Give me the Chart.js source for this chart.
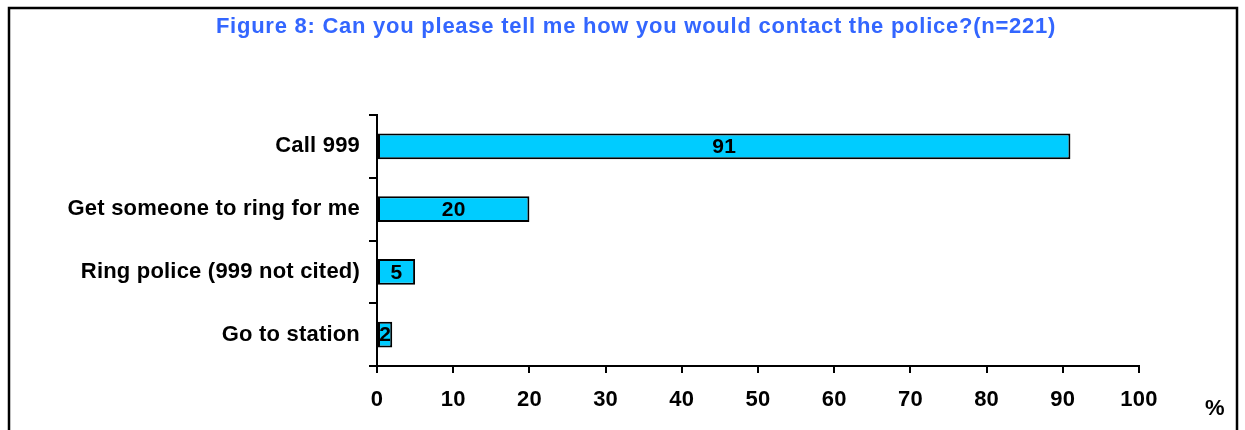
<!DOCTYPE html>
<html>
<head>
<meta charset="utf-8">
<script src="https://cdn.jsdelivr.net/npm/chart.js@4.4.1/dist/chart.umd.min.js"></script>
<style>
  html, body { margin: 0; padding: 0; background: #fff; }
  #wrap { position: relative; width: 1245px; height: 430px; }
</style>
</head>
<body>
<div id="wrap"><canvas id="grafico" width="1245" height="430"></canvas></div>
<script>
const titulo = 'Figure 8: Can you please tell me how you would contact the police?(n=221)';
const categorias = ['Call 999', 'Get someone to ring for me', 'Ring police (999 not cited)', 'Go to station'];
const porcentajes = [91, 20, 5, 2];
const ticksX = [0, 10, 20, 30, 40, 50, 60, 70, 80, 90, 100];

const FUENTE = '"Liberation Sans", Arial, sans-serif';

// marco, titulo, valores sobre las barras y el simbolo %
const extras = {
    id: 'extras',
    beforeDraw(chart) {
        const ctx = chart.ctx;
        ctx.save();
        ctx.fillStyle = '#fff';
        ctx.fillRect(0, 0, chart.width, chart.height);
        ctx.strokeStyle = '#000';
        ctx.lineWidth = 2.5;
        ctx.strokeRect(9, 8, 1228, 460);
        ctx.restore();
        // texto de los ejes apenas espaciado
        ctx.letterSpacing = '0.2px';
    },
    afterDatasetsDraw(chart) {
        const ctx = chart.ctx;
        const area = chart.chartArea;
        ctx.save();
        ctx.font = 'bold 22px ' + FUENTE;
        ctx.letterSpacing = '0.75px';
        ctx.fillStyle = '#3366ff';
        ctx.textAlign = 'center';
        ctx.textBaseline = 'middle';
        ctx.fillText(titulo, 636, 27);

        ctx.letterSpacing = '0.3px';
        ctx.fillStyle = '#000';
        ctx.font = 'bold 21px ' + FUENTE;
        chart.getDatasetMeta(0).data.forEach((bar, i) => {
            const cx = (bar.x + bar.base) / 2;
            ctx.fillText(String(porcentajes[i]), cx, bar.y + 1);
        });

        ctx.font = 'bold 22px ' + FUENTE;
        ctx.fillText('%', area.right + 76, 409);
        ctx.restore();
    }
};

new Chart(document.getElementById('grafico'), {
    type: 'bar',
    data: {
        labels: categorias,
        datasets: [{
            data: porcentajes,
            backgroundColor: '#00ccff',
            borderColor: '#000',
            borderWidth: 2,
            borderSkipped: false,
            barPercentage: 0.41,
            categoryPercentage: 1
        }]
    },
    options: {
        indexAxis: 'y',
        responsive: false,
        animation: false,
        layout: { padding: { left: 0, top: 115, right: 106, bottom: 0 } },
        plugins: {
            legend: { display: false },
            title: { display: false },
            tooltip: { enabled: false }
        },
        scales: {
            x: {
                min: 0,
                max: 100,
                afterFit(scale) { scale.height = 64; },
                afterBuildTicks(scale) { scale.ticks = ticksX.map(v => ({ value: v })); },
                border: { color: '#000', width: 2 },
                grid: { drawOnChartArea: false, color: '#000', lineWidth: 2, tickLength: 7 },
                ticks: {
                    color: '#000',
                    padding: 14,
                    font: { family: FUENTE, size: 22, weight: 'bold' }
                }
            },
            y: {
                afterFit(scale) { scale.width = 377; },
                border: { color: '#000', width: 2 },
                grid: { offset: true, drawOnChartArea: false, color: '#000', lineWidth: 2, tickLength: 8 },
                ticks: {
                    color: '#000',
                    padding: 9,
                    font: { family: FUENTE, size: 22, weight: 'bold' }
                }
            }
        }
    },
    plugins: [extras]
});
</script>
</body>
</html>
